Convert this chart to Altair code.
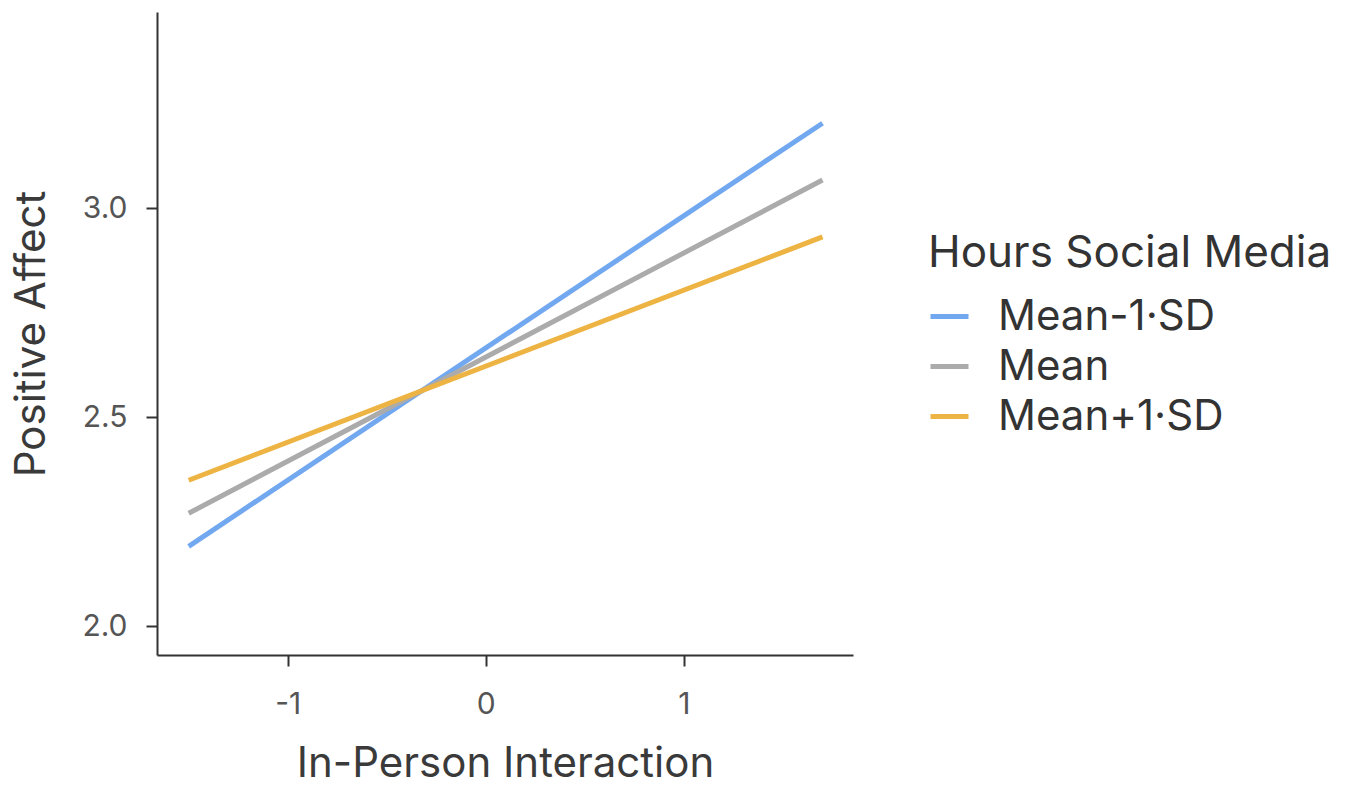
import altair as alt
import pandas as pd

groups = ["Mean-1·SD", "Mean", "Mean+1·SD"]
colors = ["#72A8F0", "#ABABAB", "#EDB443"]
x_start = [-1.5, -1.5, -1.5]
x_end = [1.7, 1.7, 1.7]
y_start = [2.191, 2.270, 2.349]
y_end = [3.203, 3.067, 2.931]
x_ticks = [-1, 0, 1]
y_ticks = [2.0, 2.5, 3.0]

rows = []
for g, xs, xe, ys, ye in zip(groups, x_start, x_end, y_start, y_end):
    rows.append({"group": g, "x": xs, "y": ys})
    rows.append({"group": g, "x": xe, "y": ye})
df = pd.DataFrame(rows)

FONT = "Inter"
TICK_FS = 30
TITLE_FS = 42

chart = alt.Chart(df).mark_line(strokeWidth=5, strokeCap="butt").encode(
    x=alt.X("x:Q", title="In-Person Interaction",
            scale=alt.Scale(domain=[-1.66, 1.854], nice=False, zero=False),
            axis=alt.Axis(values=x_ticks, labelExpr="'' + datum.value",
                          labelPadding=23, titlePadding=24,
                          labelFontSize=TICK_FS, titleFontSize=TITLE_FS)),
    y=alt.Y("y:Q", title="Positive Affect",
            scale=alt.Scale(domain=[1.931, 3.469], nice=False, zero=False),
            axis=alt.Axis(values=y_ticks, format=".1f",
                          labelPadding=19, titlePadding=28,
                          labelFontSize=TICK_FS, titleFontSize=TITLE_FS)),
    color=alt.Color("group:N", sort=groups,
                    scale=alt.Scale(domain=groups, range=colors),
                    legend=alt.Legend(title="Hours Social Media", orient="none",
                                      legendX=771, legendY=220,
                                      symbolType="stroke", symbolSize=1444, symbolStrokeWidth=5,
                                      titleFontSize=44, labelFontSize=42, titlePadding=19,
                                      labelOffset=27, rowPadding=7,
                                      labelLimit=0, titleLimit=0,
                                      titleFontWeight="normal", titleColor="#333333",
                                      labelColor="#333333", titleFont=FONT, labelFont=FONT)),
    detail="group:N",
).properties(
    width=696, height=643,
    autosize=alt.AutoSizeParams(type="none"),
    padding={"left": 149, "top": 4, "right": 494, "bottom": 129},
).configure_view(stroke=None).configure_axis(
    grid=False, domainColor="#333333", domainWidth=2, tickColor="#333333",
    tickSize=11, tickWidth=2, labelColor="#555555", labelFont=FONT,
    titleFont=FONT, titleFontWeight="normal", titleColor="#3A3A3A",
)

chart.save("out.html", embed_options={"renderer": "svg", "actions": False})
